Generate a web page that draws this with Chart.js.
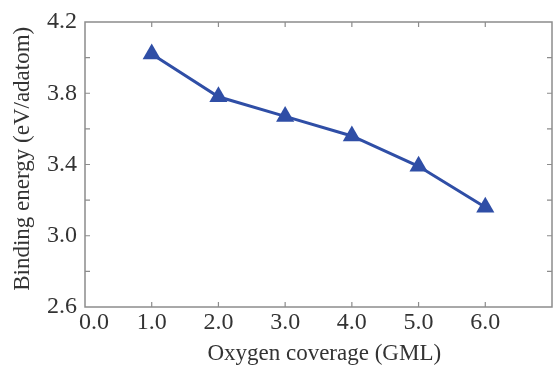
<!DOCTYPE html>
<html>
<head>
<meta charset="utf-8">
<script src="https://cdn.jsdelivr.net/npm/chart.js@4.4.0/dist/chart.umd.min.js"></script>
<style>
  html, body { margin: 0; padding: 0; background: #fff; }
</style>
</head>
<body>
<canvas id="chart" width="553" height="371"></canvas>
<script>
// data
const coverage = [1, 2, 3, 4, 5, 6];
const bindingEnergy = [4.02, 3.78, 3.67, 3.56, 3.39, 3.16];
const xTickLabels = ['   0.0', '1.0', '2.0', '3.0', '4.0', '5.0', '6.0', ''];
const yLabelEvery = 0.4;

const axisGray = '#8c8c8c';
const textColor = '#333333';
const lineBlue = '#2f4ea6';
const serif = "'Liberation Serif', 'Times New Roman', serif";

// frame all round with ticks pointing inwards (top/right mirrored)
const frameTicks = {
  id: 'frameTicks',
  beforeDatasetsDraw(chart) {
    const ctx = chart.ctx;
    const a = chart.chartArea;
    const xs = chart.scales.x;
    const ys = chart.scales.y;
    const len = 5;
    ctx.save();
    ctx.strokeStyle = axisGray;
    ctx.lineWidth = 1.5;
    ctx.strokeRect(a.left, a.top, a.right - a.left, a.bottom - a.top);
    ctx.lineWidth = 1.2;
    ctx.beginPath();
    xs.ticks.forEach(t => {
      const px = xs.getPixelForValue(t.value);
      if (px <= a.left + 1 || px >= a.right - 1) return;
      ctx.moveTo(px, a.bottom); ctx.lineTo(px, a.bottom - len);
      ctx.moveTo(px, a.top); ctx.lineTo(px, a.top + len);
    });
    ys.ticks.forEach(t => {
      const py = ys.getPixelForValue(t.value);
      if (py <= a.top + 1 || py >= a.bottom - 1) return;
      ctx.moveTo(a.left, py); ctx.lineTo(a.left + len, py);
      ctx.moveTo(a.right, py); ctx.lineTo(a.right - len, py);
    });
    ctx.stroke();
    ctx.restore();
  }
};

const ctx = document.getElementById('chart');
const chart = new Chart(ctx, {
  type: 'line',
  data: {
    datasets: [{
      data: coverage.map((x, i) => ({ x: x, y: bindingEnergy[i] })),
      borderColor: lineBlue,
      backgroundColor: lineBlue,
      borderWidth: 3,
      pointStyle: 'triangle',
      pointRadius: 10.5,
      pointBorderWidth: 0,
      tension: 0
    }]
  },
  options: {
    responsive: false,
    animation: false,
    devicePixelRatio: 1,
    layout: { autoPadding: false, padding: { top: 22, right: 1, left: 0, bottom: 0 } },
    plugins: { legend: { display: false }, tooltip: { enabled: false } },
    scales: {
      x: {
        type: 'linear',
        min: 0,
        max: 7,
        grid: { display: false, drawTicks: false },
        border: { display: false },
        ticks: {
          stepSize: 1,
          padding: 1,
          color: textColor,
          font: { family: serif, size: 24 },
          maxRotation: 0,
          autoSkip: false,
          callback: (v) => xTickLabels[Math.round(v)]
        },
        title: {
          display: true,
          text: '  Oxygen coverage (GML)',
          color: textColor,
          font: { family: serif, size: 23 },
          padding: { top: 0, bottom: 3 }
        },
        afterFit: (s) => { s.height = 64; s.paddingLeft = 0; s.paddingRight = 0; }
      },
      y: {
        min: 2.6,
        max: 4.2,
        grid: { display: false, drawTicks: false },
        border: { display: false },
        ticks: {
          stepSize: 0.2,
          padding: 8,
          color: textColor,
          font: { family: serif, size: 24 },
          autoSkip: false,
          callback: (v) => {
            const k = Math.round((v - 2.6) * 10);
            return k % Math.round(yLabelEvery * 10) === 0 ? v.toFixed(1) : '';
          }
        },
        title: {
          display: true,
          text: '  Binding energy (eV/adatom)',
          color: textColor,
          font: { family: serif, size: 23 },
          padding: { top: 9, bottom: 0 }
        },
        afterFit: (s) => { s.width = 85; s.paddingTop = 0; s.paddingBottom = 0; }
      }
    }
  },
  plugins: [frameTicks]
});
</script>
</body>
</html>
